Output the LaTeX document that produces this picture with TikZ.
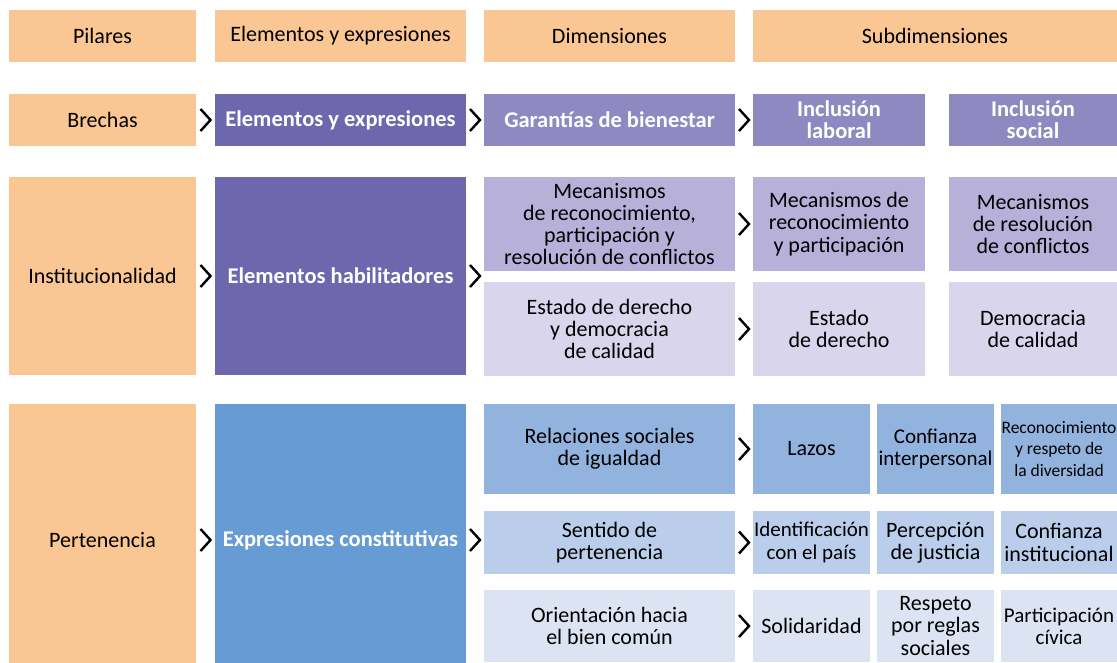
\documentclass[tikz,border=0pt]{standalone}
\usepackage{fontspec}
\setmainfont{Carlito}
\usetikzlibrary{calc}

\definecolor{naranja}{RGB}{250,199,148}
\definecolor{moradoA}{RGB}{110,103,174}
\definecolor{moradoB}{RGB}{143,137,194}
\definecolor{moradoC}{RGB}{183,177,218}
\definecolor{moradoD}{RGB}{216,213,236}
\definecolor{azulA}{RGB}{103,155,211}
\definecolor{azulB}{RGB}{147,179,223}
\definecolor{azulC}{RGB}{186,206,235}
\definecolor{azulD}{RGB}{220,228,243}

\tikzset{
    caja/.style={inner sep=0pt, align=center, text=black,
        font=\fontsize{22}{22.3}\selectfont},
    fuerte/.style={caja, text=white,
        font=\bfseries\fontsize{22.5}{22.3}\selectfont},
    angosta/.style={font=\fontsize{21}{22.3}\selectfont},
    chev/.style={line width=2.4pt, miter limit=10, black},
}
\newcommand{\chevron}[1]{\draw[chev] (#1) ++(-5,-11) -- ++(10,11) -- ++(-10,11);}

\begin{document}
\begin{tikzpicture}[x=1pt, y=-1pt]
        \useasboundingbox (0,0) rectangle (1117,662);
        \clip (0,0) rectangle (1117,662);

        % encabezados
        \node[caja, fill=naranja, minimum width=187, minimum height=52] (hpil) at (102.5,36) {Pilares};
        \node[caja, fill=naranja, minimum width=251, minimum height=52] (helem) at (340.5,36) {Elementos y expresiones};
        \node[caja, fill=naranja, minimum width=251, minimum height=52] (hdim) at (609.5,36) {Dimensiones};
        \node[caja, fill=naranja, minimum width=364, minimum height=52] (hsub) at (935,36) {Subdimensiones};

        % brechas
        \node[caja, fill=naranja, minimum width=187, minimum height=52] (brechas) at (102.5,120) {Brechas};
        \node[fuerte, fill=moradoA, minimum width=251, minimum height=52] (elemexp) at (340.5,120) {Elementos y expresiones};
        \node[fuerte, fill=moradoB, minimum width=251, minimum height=52] (garant) at (609.5,120) {Garantías de bienestar};
        \node[fuerte, fill=moradoB, minimum width=172, minimum height=52] (inclab) at (839,120) {Inclusión\\laboral};
        \node[fuerte, fill=moradoB, minimum width=168, minimum height=52] (incsoc) at (1033,120) {Inclusión\\social};

        % institucionalidad
        \node[caja, fill=naranja, minimum width=187, minimum height=198] (instit) at (102.5,276) {Institucionalidad};
        \node[fuerte, fill=moradoA, minimum width=251, minimum height=198] (habil) at (340.5,276) {Elementos habilitadores};
        \node[caja, fill=moradoC, minimum width=251, minimum height=94] (mecan) at (609.5,224) {Mecanismos\\de reconocimiento,\\participación y\\resolución de conflictos};
        \node[caja, fill=moradoD, minimum width=251, minimum height=94] (estado) at (609.5,329) {Estado de derecho\\y democracia\\de calidad};
        \node[caja, fill=moradoC, minimum width=172, minimum height=94] (mecrp) at (839,224) {Mecanismos de\\reconocimiento\\y participación};
        \node[caja, fill=moradoC, minimum width=168, minimum height=94] (mecres) at (1033,224) {Mecanismos\\de resolución\\de conflictos};
        \node[caja, fill=moradoD, minimum width=172, minimum height=94] (estder) at (839,329) {Estado\\de derecho};
        \node[caja, fill=moradoD, minimum width=168, minimum height=94] (democ) at (1033,329) {Democracia\\de calidad};

        % pertenencia
        \node[caja, fill=naranja, minimum width=187, minimum height=272] (perten) at (102.5,540) {Pertenencia};
        \node[fuerte, fill=azulA, minimum width=251, minimum height=272] (expcon) at (340.5,540) {Expresiones constitutivas};
        \node[caja, fill=azulB, minimum width=251, minimum height=90] (relac) at (609.5,449) {Relaciones sociales\\de igualdad};
        \node[caja, fill=azulC, minimum width=251, minimum height=63] (sentido) at (609.5,542.5) {Sentido de\\pertenencia};
        \node[caja, fill=azulD, minimum width=251, minimum height=72] (orient) at (609.5,626) {Orientación hacia\\el bien común};
        \node[caja, fill=azulB, minimum width=117, minimum height=90] (lazos) at (811.5,449) {Lazos};
        \node[caja, angosta, fill=azulB, minimum width=117, minimum height=90] (confint) at (935.5,449) {Confianza\\interpersonal};
        \node[caja, fill=azulB, minimum width=116, minimum height=90, font=\fontsize{17.5}{21.5}\selectfont] (recon) at (1059,449) {Reconocimiento\\y respeto de\\la diversidad};
        \node[caja, angosta, fill=azulC, minimum width=117, minimum height=63] (ident) at (811.5,542.5) {Identificación\\con el país};
        \node[caja, fill=azulC, minimum width=117, minimum height=63] (percep) at (935.5,542.5) {Percepción\\de justicia};
        \node[caja, fill=azulC, minimum width=116, minimum height=63] (confinst) at (1059,542.5) {Confianza\\institucional};
        \node[caja, fill=azulD, minimum width=117, minimum height=72] (solid) at (811.5,626) {Solidaridad};
        \node[caja, fill=azulD, minimum width=117, minimum height=72] (respeto) at (935.5,626) {Respeto\\por reglas\\sociales};
        \node[caja, angosta, fill=azulD, minimum width=116, minimum height=72] (particip) at (1059,626) {Participación\\cívica};

        % flechas
        \chevron{$(brechas.east)!0.5!(elemexp.west)$}
        \chevron{$(elemexp.east)!0.5!(garant.west)$}
        \chevron{$(garant.east)!0.5!(inclab.west)$}
        \chevron{$(instit.east)!0.5!(habil.west)$}
        \chevron{$(habil.east)!0.5!(habil.east -| mecan.west)$}
        \chevron{$(mecan.east)!0.5!(mecrp.west)$}
        \chevron{$(estado.east)!0.5!(estder.west)$}
        \chevron{$(perten.east)!0.5!(expcon.west)$}
        \chevron{$(expcon.east)!0.5!(expcon.east -| sentido.west)$}
        \chevron{$(relac.east)!0.5!(lazos.west)$}
        \chevron{$(sentido.east)!0.5!(ident.west)$}
        \chevron{$(orient.east)!0.5!(solid.west)$}

    \end{tikzpicture}
\end{document}
